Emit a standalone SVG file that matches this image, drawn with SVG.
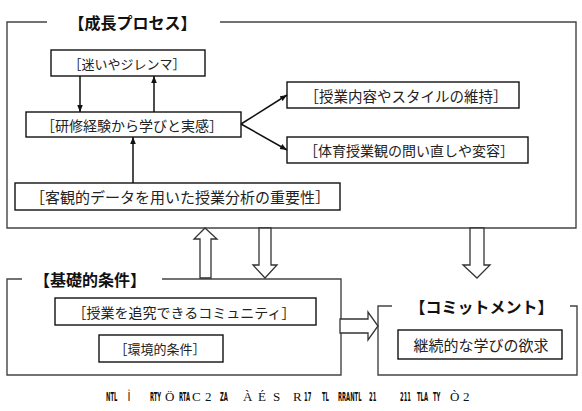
<svg xmlns="http://www.w3.org/2000/svg" width="582" height="411" viewBox="0 0 582 411">
<defs>
<style>
.frame{fill:none;stroke:#444;stroke-width:1.4}
.box{fill:#fff;stroke:#111;stroke-width:1.4}
.t{font-family:"Noto Sans CJK JP","Noto Sans CJK SC",sans-serif;fill:#222;text-anchor:middle;dominant-baseline:central}
.ttl{font-family:"Noto Sans CJK JP",sans-serif;fill:#111;font-size:16px;font-weight:bold;text-anchor:middle;dominant-baseline:central}
.ln{stroke:#111;stroke-width:1.5;fill:none}
.blk{fill:#fff;stroke:#333;stroke-width:1.3;stroke-linejoin:miter}
.cn{font-family:"DejaVu Sans Condensed","DejaVu Sans",sans-serif;font-weight:bold;font-size:13px;fill:#111}
.cw{font-family:"Liberation Serif",serif;font-size:13px;fill:#111}
</style>
<marker id="ah" viewBox="0 0 10 10" refX="10" refY="5" markerWidth="7" markerHeight="7" orient="auto" markerUnits="userSpaceOnUse">
<path d="M0,1 L10,5 L0,9 z" fill="#111"/>
</marker>
</defs>
<rect width="582" height="411" fill="#fff"/>

<g id="frame-growth">
<path class="frame" d="M47,22 H7 V228 H576 V22 H220"/>
<text class="ttl" x="132.5" y="22">【成長プロセス】</text>
</g>
<g id="frame-base">
<path class="frame" d="M22,279 H7 V375 H341 V279 H162"/>
<text class="ttl" x="90" y="279">【基礎的条件】</text>
</g>
<g id="frame-commit">
<path class="frame" d="M392,306 H378 V375 H577 V306 H570"/>
<text class="ttl" x="481.5" y="306">【コミットメント】</text>
</g>

<g id="n-mayoi"><rect class="box" x="51" y="50" width="154" height="26"/><text class="t" x="127" y="63.5" font-size="13">［迷いやジレンマ］</text></g>
<g id="n-kenshu"><rect class="box" x="26" y="112" width="215" height="25"/><text class="t" x="132" y="124.5" font-size="14">［研修経験から学びと実感］</text></g>
<g id="n-iji"><rect class="box" x="287" y="82" width="232" height="26"/><text class="t" x="406" y="95" font-size="14.5">［授業内容やスタイルの維持］</text></g>
<g id="n-henyo"><rect class="box" x="287" y="137" width="241" height="26"/><text class="t" x="409" y="150" font-size="14">［体育授業観の問い直しや変容］</text></g>
<g id="n-data"><rect class="box" x="15" y="183" width="325" height="27"/><text class="t" x="180" y="196.5" font-size="15">［客観的データを用いた授業分析の重要性］</text></g>
<g id="n-community"><rect class="box" x="55" y="298" width="261" height="27"/><text class="t" x="184" y="311.5" font-size="14">［授業を追究できるコミュニティ］</text></g>
<g id="n-kankyo"><rect class="box" x="99" y="335" width="124" height="27"/><text class="t" x="160" y="348.5" font-size="13">［環境的条件］</text></g>
<g id="n-keizoku"><rect class="box" x="398" y="330" width="164" height="29"/><text class="t" x="481" y="344.5" font-size="15">継続的な学びの欲求</text></g>

<g id="connectors">
<line class="ln" x1="80" y1="76" x2="80" y2="112" marker-end="url(#ah)"/>
<line class="ln" x1="154" y1="112" x2="154" y2="76" marker-end="url(#ah)"/>
<line class="ln" x1="133" y1="183" x2="133" y2="137" marker-end="url(#ah)"/>
<line class="ln" x1="241" y1="124" x2="287" y2="95" marker-end="url(#ah)"/>
<line class="ln" x1="241" y1="124" x2="287" y2="150" marker-end="url(#ah)"/>
<polygon class="blk" points="205,228 217,239 211,239 211,278 200,278 200,239 194,239"/>
<polygon class="blk" points="259,228 271,228 271,265 277,265 265,278 253,265 259,265"/>
<polygon class="blk" points="470,228 484,228 484,265 490,265 477,278 463,265 470,265"/>
<polygon class="blk" points="340,319 368,319 368,312 378,326 368,340 368,333 340,333"/>
</g>

<g id="caption">
<g class="cn" transform="scale(0.45,1)">
<text x="235.6" y="401">NTL</text>
<text x="284.4" y="401">İ</text>
<text x="333.3" y="401">RTY</text>
<text x="397.8" y="401">RTA</text>
<text x="488.9" y="401">ZA</text>
<text x="675.6" y="401">17</text>
<text x="715.6" y="401">TL</text>
<text x="751.1" y="401">RRANTL</text>
<text x="820" y="401">21</text>
<text x="888.9" y="401">211</text>
<text x="926.7" y="401">TLA</text>
<text x="962.2" y="401">TY</text>
</g>
<g class="cw">
<text x="165" y="401">Ö</text>
<text x="192" y="401">C</text>
<text x="205" y="401">2</text>
<text x="243" y="401">À</text>
<text x="258" y="401">É</text>
<text x="273" y="401">S</text>
<text x="293" y="401">R</text>
<text x="450" y="401">Ò</text>
<text x="463" y="401">2</text>
</g>
</g>
</svg>
